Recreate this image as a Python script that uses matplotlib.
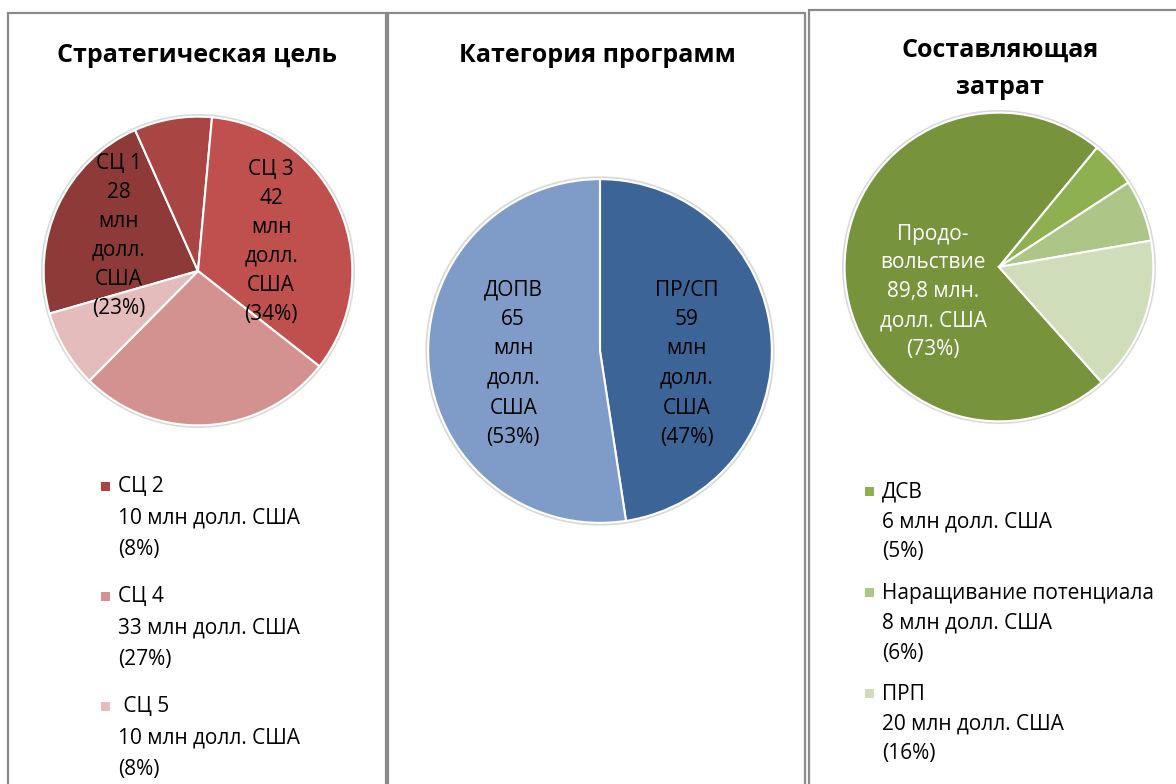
import matplotlib
matplotlib.use('Agg')
import matplotlib.pyplot as plt
from matplotlib.patches import Rectangle, Circle

plt.rcParams['font.family'] = ['Open Sans', 'DejaVu Sans']

W, H = 1176, 784

# --- data ---
goal_names = ['СЦ 1', 'СЦ 2', 'СЦ 3', 'СЦ 4', ' СЦ 5']
goal_values = [28, 10, 42, 33, 10]
goal_pcts = [23, 8, 34, 27, 8]
goal_colors = ['#8e3a38', '#a94542', '#c0504d', '#d39290', '#e4bcbb']

prog_names = ['ПР/СП', 'ДОПВ']
prog_values = [59, 65]
prog_pcts = [47, 53]
prog_colors = ['#3c6496', '#7f9cc8']

cost_names = ['Продовольствие', 'ДСВ', 'Наращивание потенциала', 'ПРП']
cost_values = [89.8, 6, 8, 20]
cost_pcts = [73, 5, 6, 16]
cost_colors = ['#77933c', '#8fb050', '#adc687', '#cfddbb']

FS = 15  # body text size
TS = 18  # title size

fig = plt.figure(figsize=(W / 100, H / 100), dpi=100)


def px(x, y):
    return x / W, 1 - y / H


def lines_at(x, y, lines, pitch, size=FS, **kw):
    # draw a block of lines, y is the centre of the first line (pixels)
    for i, line in enumerate(lines):
        fig.text(*px(x, y + i * pitch), line, va='center', fontsize=size, **kw)


def draw_pie(cx, cy, r, values, colors, start):
    ax = fig.add_axes([(cx - r) / W, (H - cy - r) / H, 2 * r / W, 2 * r / H])
    ax.add_patch(Circle((0, 0), 1.01, facecolor='none', edgecolor='#d8d8d8', lw=1.5))
    wedges, _ = ax.pie(values, colors=colors, startangle=start, counterclock=False,
                       wedgeprops=dict(edgecolor='white', linewidth=1.5))
    ax.set_xlim(-1.03, 1.03)
    ax.set_ylim(-1.03, 1.03)
    ax.axis('off')
    return ax, wedges


def legend_block(x, y, entries, colors, pitch, gap):
    for k, (lines, col) in enumerate(zip(entries, colors)):
        y0 = y + k * gap
        fig.patches.append(Rectangle(px(x - 17, y0 + 4), 9 / W, 9 / H, facecolor=col,
                                     edgecolor='none', transform=fig.transFigure))
        lines_at(x, y0, lines, pitch, ha='left')


# panel frames
for x0, y0, x1 in [(8, 13, 386), (388, 13, 805), (809, 10, 1200)]:
    fig.patches.append(Rectangle(px(x0, 800), (x1 - x0) / W, (800 - y0) / H,
                                 facecolor='none', edgecolor='#8a8a8a', lw=1.6,
                                 transform=fig.transFigure))

# --- panel 1: strategic goal ---
fig.text(*px(197, 55), 'Стратегическая цель', ha='center', va='center',
         fontsize=TS, fontweight='bold')
draw_pie(198, 271, 159, goal_values, goal_colors, 196)
for i, (lx, ly) in [(0, (-0.50, 0.22)), (2, (0.46, 0.18))]:
    lab = [goal_names[i], str(goal_values[i]), 'млн', 'долл.', 'США', f'({goal_pcts[i]}%)']
    lines_at(198 + lx * 159, 271 - ly * 159 - 73, lab, 29, ha='center')
leg = [1, 3, 4]
legend_block(118, 487,
             [[goal_names[i], f'{goal_values[i]} млн долл. США', f'({goal_pcts[i]}%)']
              for i in leg],
             [goal_colors[i] for i in leg], 31, 110)

# --- panel 2: programme category ---
fig.text(*px(597, 55), 'Категория программ', ha='center', va='center',
         fontsize=TS, fontweight='bold')
draw_pie(600, 351, 177, prog_values, prog_colors, 90)
for i, lx in [(0, 0.49), (1, -0.49)]:
    lab = [prog_names[i], str(prog_values[i]), 'млн', 'долл.', 'США', f'({prog_pcts[i]}%)']
    lines_at(600 + lx * 177, 290, lab, 29.5, ha='center')

# --- panel 3: cost component ---
fig.text(*px(1000, 50), 'Составляющая', ha='center', va='center',
         fontsize=TS, fontweight='bold')
fig.text(*px(1000, 88), 'затрат', ha='center', va='center',
         fontsize=TS, fontweight='bold')
draw_pie(999, 267, 159, cost_values, cost_colors, -48.3)
lines_at(933, 234, ['Продо-', 'вольствие', '89,8 млн.', 'долл. США', f'({cost_pcts[0]}%)'],
         29, ha='center', color='white')
legend_block(882, 492,
             [[cost_names[i], f'{cost_values[i]} млн долл. США', f'({cost_pcts[i]}%)']
              for i in range(1, 4)],
             cost_colors[1:], 30, 101)

fig.savefig('out.png', dpi=100)
